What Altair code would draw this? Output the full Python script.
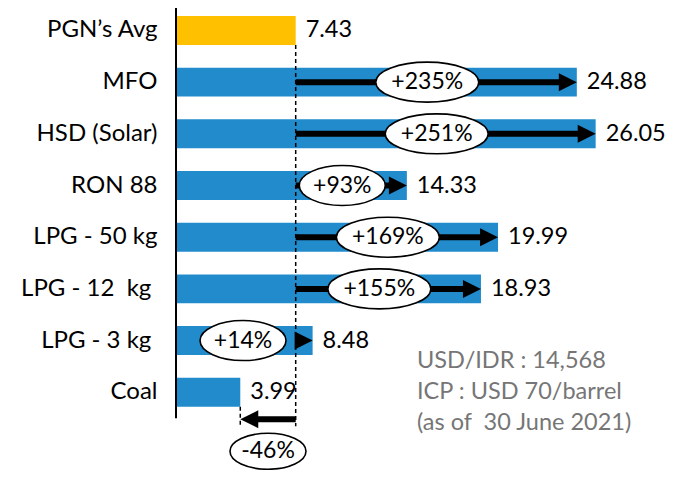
import altair as alt
import pandas as pd

# ---- data ----
categories = ["PGN’s Avg", "MFO", "HSD (Solar)", "RON 88", "LPG - 50 kg",
              "LPG - 12\u00a0 kg\u00a0\u200b", "LPG - 3 kg\u00a0\u200b", "Coal"]
prices = [7.43, 24.88, 26.05, 14.33, 19.99, 18.93, 8.48, 3.99]
value_labels = ["7.43", "24.88", "26.05", "14.33", "19.99", "18.93", "8.48", "3.99"]
changes = ["", "+235%", "+251%", "+93%", "+169%", "+155%", "+14%", "-46%"]
note_lines = ["USD/IDR : 14,568", "ICP : USD 70/barrel", "(as of\u00a0 30 June 2021)"]

FONT = "Lato"
BLUE = "#218BCC"
GOLD = "#FFC000"
PX_PER_UNIT = 16.11
PLOT_W = 500
PLOT_H = 462
TRI = 18  # arrow head size in px
tri_u = TRI / PX_PER_UNIT

avg = prices[0]

bars = pd.DataFrame({
    "cat": categories,
    "x": prices,
    "label": value_labels,
    "kind": ["ref"] + ["fuel"] * (len(categories) - 1),
})

up_rows, down_rows = [], []
for c, p, ch in zip(categories[1:], prices[1:], changes[1:]):
    d = 1 if p >= avg else -1
    w = 17 * len(ch) + 18 if d > 0 else 76
    h = 40 if d > 0 else 36
    r = h / w
    ell_path = f"M-1,0A1,{r:.3f},0,1,1,1,0A1,{r:.3f},0,1,1,-1,0Z"
    shaft_end = p - d * tri_u / 2
    row = {
        "cat": c, "x": avg, "x2": shaft_end,
        "tx": p - d * tri_u / 2,
        "tri": "M-1,-1L1,0L-1,1Z" if d > 0 else "M1,-1L-1,0L1,1Z",
        "pct": ch, "ell": ell_path, "esz": w * w, "end": p,
    }
    if d > 0:
        span = (p - tri_u) - avg
        if span * PX_PER_UNIT > w + 4:
            row["ex"] = avg + span / 2
        else:
            row["ex"] = avg - 0.6 - (w / 2) / PX_PER_UNIT
        up_rows.append(row)
    else:
        row["ex"] = (avg + p) / 2
        down_rows.append(row)

up = pd.DataFrame(up_rows)
down = pd.DataFrame(down_rows)

xscale = alt.Scale(domain=[0, PLOT_W / PX_PER_UNIT], nice=False, zero=False)
yscale = alt.Scale(domain=categories, range=[-3.4, 410.1], paddingInner=0.44, paddingOuter=0.22)
yaxis = alt.Axis(title=None, ticks=False, domain=False, labelPadding=19, labelFont=FONT, labelFontSize=24,
                 labelColor="black", grid=False, labelLimit=300)


def Y(field="cat"):
    return alt.Y(f"{field}:N", sort=categories, scale=yscale, axis=yaxis)


def X(field):
    return alt.X(f"{field}:Q", scale=xscale, axis=None)


bar_layer = alt.Chart(bars).mark_bar().encode(
    x=X("x"), x2=alt.datum(0), y=Y(),
    color=alt.Color("kind:N", scale=alt.Scale(domain=["ref", "fuel"], range=[GOLD, BLUE]), legend=None),
)

axis_df = pd.DataFrame({"x": [0], "c1": [categories[0]], "c2": [categories[-1]]})
axis_line = alt.Chart(axis_df).mark_rule(color="black", strokeWidth=2, yOffset=-26, y2Offset=26).encode(
    x=X("x"), y=Y("c1"), y2="c2:N")

dash_df = pd.DataFrame({"x": [avg], "c1": [categories[0]], "c2": [categories[-1]]})
dash_layer = alt.Chart(dash_df).mark_rule(
    color="black", strokeWidth=1.5, strokeDash=[4, 3], yOffset=14.5, y2Offset=34
).encode(x=X("x"), y=Y("c1"), y2="c2:N")

end_tick = alt.Chart(down).mark_rule(
    color="black", strokeWidth=1.5, strokeDash=[4, 3], yOffset=14.5, y2Offset=34
).encode(x=X("end"), y=Y(), y2="cat:N")

shaft_up = alt.Chart(up).mark_rule(color="black", strokeWidth=6).encode(x=X("x"), x2="x2:Q", y=Y())
head_up = alt.Chart(up).mark_point(filled=True, color="black", opacity=1).encode(
    x=X("tx"), y=Y(), shape=alt.Shape("tri:N", scale=None), size=alt.value(TRI * TRI))
shaft_dn = alt.Chart(down).mark_rule(color="black", strokeWidth=6, yOffset=27).encode(
    x=X("x"), x2="x2:Q", y=Y())
head_dn = alt.Chart(down).mark_point(filled=True, color="black", opacity=1, yOffset=27).encode(
    x=X("tx"), y=Y(), shape=alt.Shape("tri:N", scale=None), size=alt.value(TRI * TRI))

ell_up = alt.Chart(up).mark_point(filled=True, fill="white", stroke="black", strokeWidth=1.6, opacity=1).encode(
    x=X("ex"), y=Y(), shape=alt.Shape("ell:N", scale=None), size=alt.Size("esz:Q", scale=None))
txt_up = alt.Chart(up).mark_text(font=FONT, fontSize=23, color="black", baseline="middle").encode(
    x=X("ex"), y=Y(), text="pct:N")
ell_dn = alt.Chart(down).mark_point(filled=True, fill="white", stroke="black", strokeWidth=1.6, opacity=1,
                                    yOffset=59).encode(
    x=X("ex"), y=Y(), shape=alt.Shape("ell:N", scale=None), size=alt.Size("esz:Q", scale=None))
txt_dn = alt.Chart(down).mark_text(font=FONT, fontSize=23, color="black", baseline="middle", yOffset=59).encode(
    x=X("ex"), y=Y(), text="pct:N")

val_layer = alt.Chart(bars).mark_text(font=FONT, fontSize=23.5, color="black", align="left",
                                      baseline="middle", dx=10).encode(
    x=X("x"), y=Y(), text="label:N")

note_df = pd.DataFrame({"note": ["\n".join(note_lines)]})
note_layer = alt.Chart(note_df).mark_text(font=FONT, fontSize=23.5, color="#767676", align="left",
                                          baseline="alphabetic", lineBreak="\n", lineHeight=31).encode(
    x=alt.value(241), y=alt.value(360), text="note:N")

chart = alt.layer(
    bar_layer, axis_line, dash_layer, end_tick, shaft_up, head_up, shaft_dn, head_dn,
    ell_up, txt_up, ell_dn, txt_dn, val_layer, note_layer
).properties(
    width=PLOT_W, height=PLOT_H,
    background="white",
    autosize=alt.AutoSizeParams(type="none"),
    padding={"left": 168, "top": 0, "right": 0, "bottom": 0},
).configure_view(strokeWidth=0, stroke="transparent")

chart.save("out.html", embed_options={"renderer": "svg", "actions": False})
